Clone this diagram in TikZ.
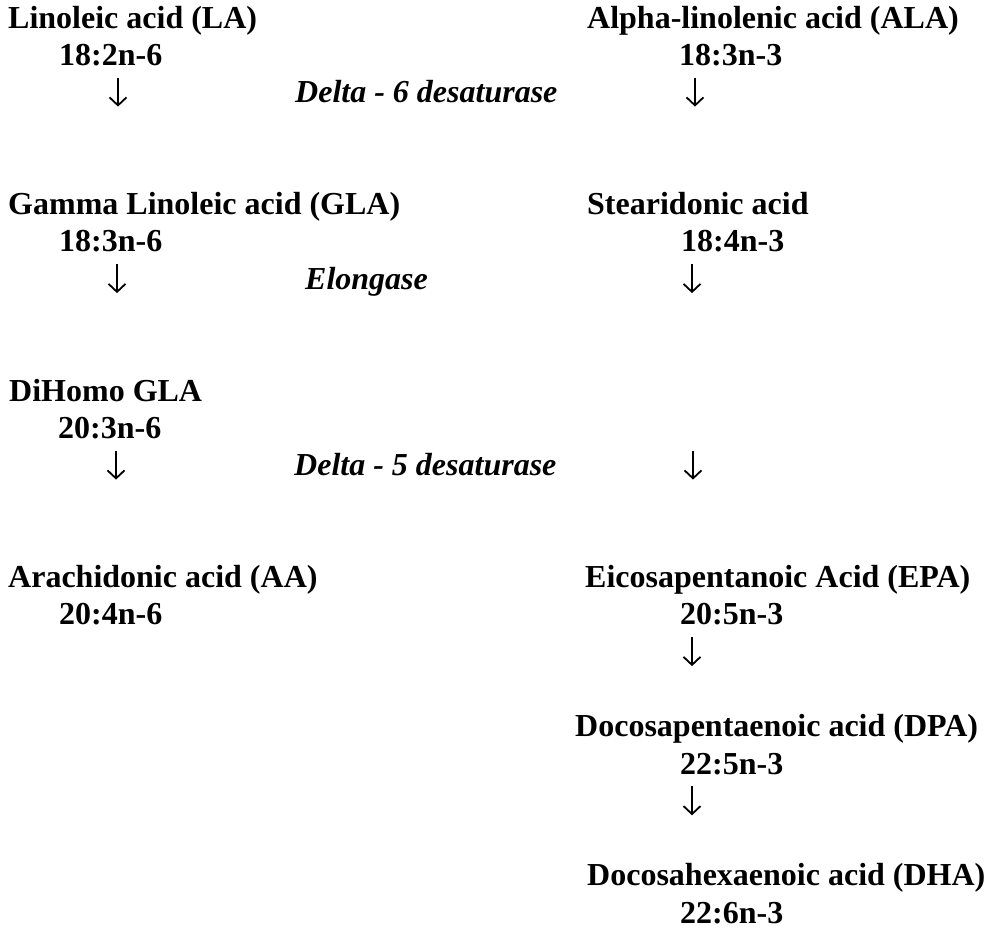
\documentclass[tikz,border=0pt]{standalone}
\usepackage{fontspec}
\setmainfont{Liberation Serif}
\usepackage{tikz}
\usetikzlibrary{arrows.meta}
\tikzset{
  acid/.style ={anchor=base west,inner sep=0pt,font=\fontsize{32}{38}\selectfont\bfseries},
  chain/.style={acid},
  enz/.style  ={acid,font=\fontsize{32}{38}\selectfont\bfseries\itshape},
  arr/.style  ={-{Straight Barb[length=8pt,width=17pt,line width=1.8pt]},line width=1.8pt,draw=black},
}

\begin{document}
\begin{tikzpicture}[x=1pt,y=-1pt]
  \useasboundingbox (0,0) rectangle (986,930);
  % omega-6 side
  \node[acid]  (la)    at (8,28)     {Linoleic acid (LA)};
  \node[chain] (la-c)  at (59,65.3)  {18:2n-6};
  \node[acid]  (gla)   at (8,214.5)  {Gamma Linoleic acid (GLA)};
  \node[chain] (gla-c) at (59,251.8) {18:3n-6};
  \node[acid]  (dgla)  at (9,401)    {DiHomo GLA};
  \node[chain] (dgla-c) at (58,438.3) {20:3n-6};
  \node[acid]  (aa)    at (8,587.5)  {Arachidonic acid (AA)};
  \node[chain] (aa-c)  at (59,624.8) {20:4n-6};

  % omega-3 side
  \node[acid]  (ala)   at (587,28)    {Alpha-linolenic acid (ALA)};
  \node[chain] (ala-c) at (679,65.3)  {18:3n-3};
  \node[acid]  (sda)   at (587,214.5) {Stearidonic acid};
  \node[chain] (sda-c) at (681,251.8) {18:4n-3};
  \node[acid]  (epa)   at (585,587.5) {Eicosapentanoic Acid (EPA)};
  \node[chain] (epa-c) at (680,624.8) {20:5n-3};
  \node[acid]  (dpa)   at (575,736.7) {Docosapentaenoic acid (DPA)};
  \node[chain] (dpa-c) at (680,774)   {22:5n-3};
  \node[acid]  (dha)   at (587,885.9) {Docosahexaenoic acid (DHA)};
  \node[chain] (dha-c) at (680,923.2) {22:6n-3};

  % enzymes
  \node[enz] (d6)  at (295,102.6) {Delta - 6 desaturase};
  \node[enz] (elo) at (305,289.1) {Elongase};
  \node[enz] (d5)  at (294,475.6) {Delta - 5 desaturase};

  % steps
  \foreach \n/\x/\y in {l1/118/102.6, l2/117/289.1, l3/116/475.6,
                        r1/695/102.6, r2/692/289.1, r3/693/475.6,
                        r4/692/662.1, r5/692/811.3} {
    \coordinate (\n-a) at (\x,\y-25);
    \coordinate (\n-b) at (\x,\y+4);
    \draw[arr] (\n-a) -- (\n-b);
  }
\end{tikzpicture}
\end{document}
